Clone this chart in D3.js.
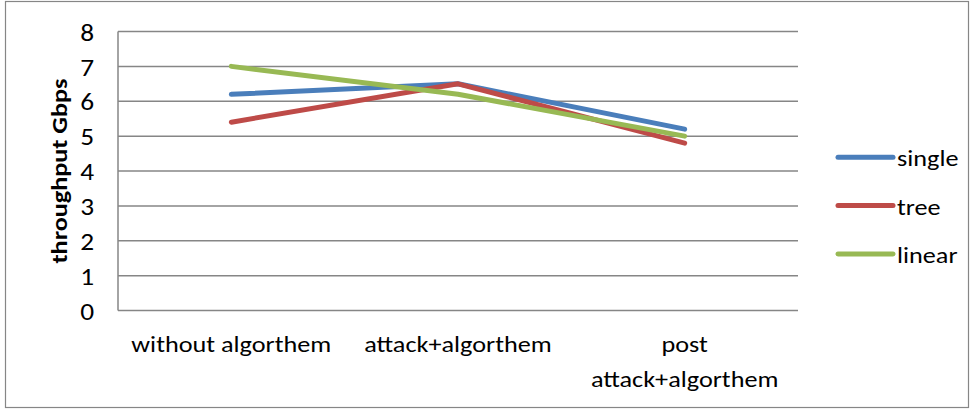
<!DOCTYPE html>
<html><head><meta charset="utf-8">
<script src="https://cdn.jsdelivr.net/npm/d3@7"></script>
<style>
html,body{margin:0;padding:0;background:#fff;}
text{font-family:Carlito,Calibri,Lato,"Open Sans","Liberation Sans",sans-serif;fill:#000;}
</style></head>
<body><svg id="c" width="976" height="410"></svg>
<script>
const categories = [["without algorthem"], ["attack+algorthem"], ["post", "attack+algorthem"]];
const seriesNames = ["single", "tree", "linear"];
const single = [6.2, 6.5, 5.2];
const tree = [5.4, 6.5, 4.8];
const linear = [7.0, 6.2, 5.0];
const yTicks = [0, 1, 2, 3, 4, 5, 6, 7, 8];
const colors = ["#4a7ebb", "#be4b48", "#98b954"];
const seriesValues = [single, tree, linear];

const STRETCH = 1.14;
function stretch(node, f) {
  const w = node.getComputedTextLength();
  if (w > 0) { node.setAttribute("textLength", w * f); node.setAttribute("lengthAdjust", "spacingAndGlyphs"); }
}

const svg = d3.select("#c");
svg.append("rect").attr("x", 5.5).attr("y", 1.5).attr("width", 963).attr("height", 406)
  .attr("fill", "#fff").attr("stroke", "#868686").attr("stroke-width", 1.2);

const L = 118, R = 798, T = 31.5, B = 310.5;
const x = d3.scaleBand().domain(d3.range(categories.length)).range([L, R]);
const y = d3.scaleLinear().domain([0, 8]).range([B, T]);

const grid = svg.append("g");
grid.selectAll("line").data(yTicks).join("line")
  .attr("x1", L).attr("x2", R).attr("y1", d => y(d)).attr("y2", d => y(d))
  .attr("stroke", "#868686").attr("stroke-width", 1.5);
grid.append("line").attr("x1", L).attr("x2", L).attr("y1", T).attr("y2", B)
  .attr("stroke", "#868686").attr("stroke-width", 1.5);

const yAxis = svg.append("g").attr("transform", `translate(${L},0)`)
  .call(d3.axisLeft(y).tickValues(yTicks).tickSize(0).tickPadding(24).tickFormat(d3.format("d")));
yAxis.select(".domain").remove();
yAxis.selectAll("text").attr("font-size", 24).attr("font-family", null).attr("dy", "0.36em")
  .each(function () { stretch(this, STRETCH); });

const title = svg.append("text").attr("transform", `translate(67,${(T + B) / 2}) rotate(-90)`)
  .attr("text-anchor", "middle").attr("font-size", 23).attr("font-weight", "bold")
  .text("throughput Gbps");
title.attr("textLength", 185).attr("lengthAdjust", "spacingAndGlyphs");

const xl = svg.append("g");
categories.forEach((lines, i) => {
  const cx = x(i) + x.bandwidth() / 2;
  lines.forEach((s, j) => {
    xl.append("text").attr("text-anchor", "middle").attr("font-size", 23)
      .attr("x", cx).attr("y", 352 + j * 35).text(s)
      .each(function () { stretch(this, STRETCH); });
  });
});

const line = d3.line().x((d, i) => x(i) + x.bandwidth() / 2).y(d => y(d));
seriesValues.forEach((vals, k) => {
  svg.append("path").datum(vals).attr("d", line).attr("fill", "none")
    .attr("stroke", colors[k]).attr("stroke-width", 5).attr("stroke-linecap", "round")
    .attr("stroke-linejoin", "round");
});

const lg = svg.append("g");
seriesNames.forEach((n, k) => {
  const yy = 157.3 + k * 48.3;
  lg.append("line").attr("x1", 838).attr("x2", 893).attr("y1", yy).attr("y2", yy)
    .attr("stroke", colors[k]).attr("stroke-width", 5).attr("stroke-linecap", "round");
  lg.append("text").attr("x", 897).attr("y", yy + 9).attr("font-size", 23).text(n)
    .each(function () { stretch(this, STRETCH); });
});
</script></body></html>
